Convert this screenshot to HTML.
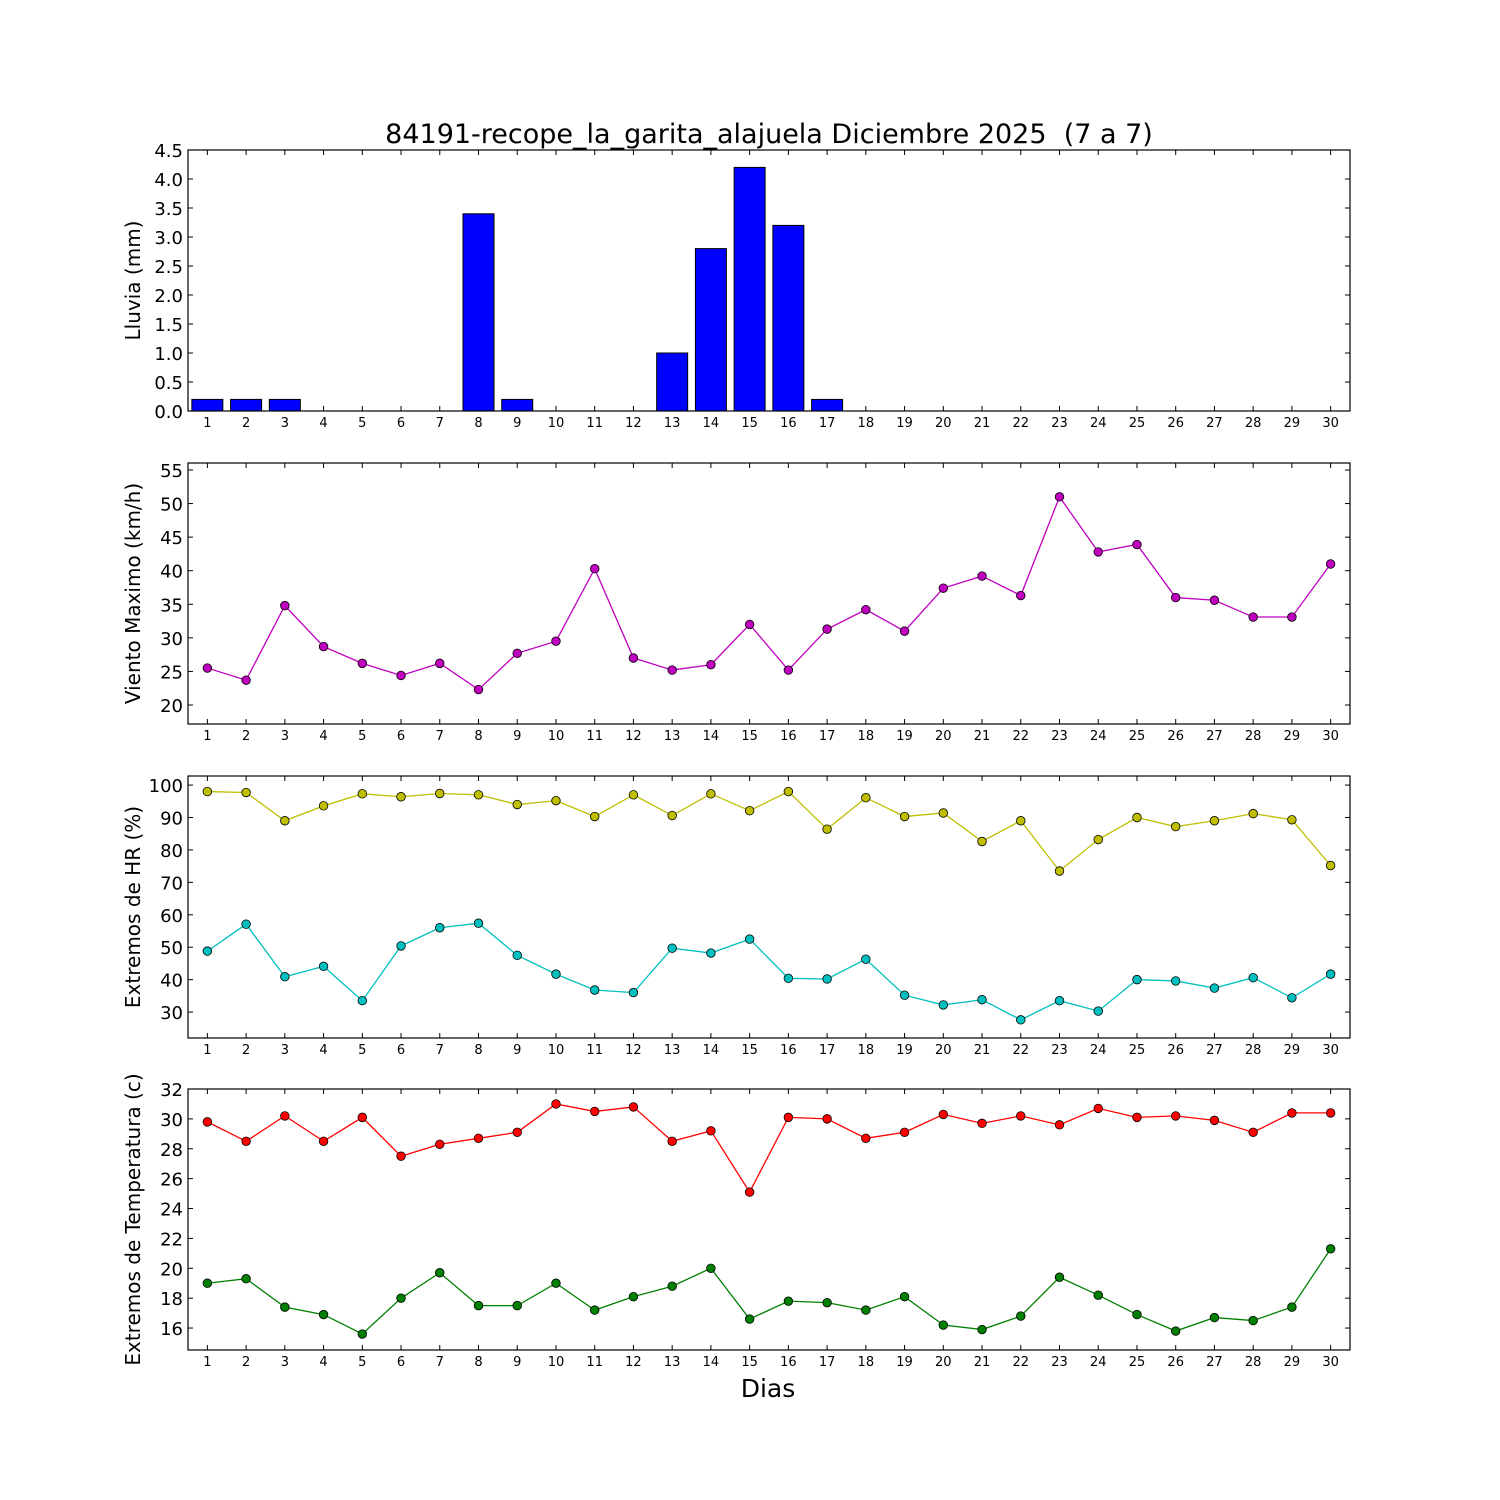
<!DOCTYPE html>
<html><head><meta charset="utf-8"><style>
html,body{margin:0;padding:0;background:#fff;}
svg{display:block;font-family:"DejaVu Sans","Liberation Sans",sans-serif;}
</style></head><body>
<svg id="chart" width="1500" height="1500" viewBox="0 0 1500 1500">
<rect width="1500" height="1500" fill="#fff"/>
<text x="769" y="143" font-size="27" text-anchor="middle" style="white-space:pre" xml:space="preserve">84191-recope_la_garita_alajuela Diciembre 2025  (7 a 7)</text>
<text x="768" y="1397" font-size="25" text-anchor="middle">Dias</text>
</svg>
<script>
const days = Array.from({length:30},(_,i)=>i+1);
const rain = [0.2,0.2,0.2,0,0,0,0,3.4,0.2,0,0,0,1.0,2.8,4.2,3.2,0.2,0,0,0,0,0,0,0,0,0,0,0,0,0];
const wind = [25.5,23.7,34.8,28.7,26.2,24.4,26.2,22.3,27.7,29.5,40.3,27,25.2,26,32,25.2,31.3,34.2,31,37.4,39.2,36.3,51,42.8,43.9,36,35.6,33.1,33.1,41];
const hrMax = [98,97.7,89,93.6,97.3,96.4,97.4,97,94,95.2,90.3,97,90.6,97.3,92.1,98,86.4,96.1,90.3,91.4,82.6,89,73.5,83.2,90,87.2,89,91.2,89.3,75.2];
const hrMin = [48.8,57.1,40.9,44.1,33.5,50.4,56,57.4,47.5,41.7,36.8,36,49.7,48.2,52.5,40.4,40.2,46.3,35.2,32.2,33.8,27.6,33.5,30.3,40,39.6,37.4,40.6,34.4,41.7];
const tMax = [29.8,28.5,30.2,28.5,30.1,27.5,28.3,28.7,29.1,31,30.5,30.8,28.5,29.2,25.1,30.1,30,28.7,29.1,30.3,29.7,30.2,29.6,30.7,30.1,30.2,29.9,29.1,30.4,30.4];
const tMin = [19,19.3,17.4,16.9,15.6,18,19.7,17.5,17.5,19,17.2,18.1,18.8,20,16.6,17.8,17.7,17.2,18.1,16.2,15.9,16.8,19.4,18.2,16.9,15.8,16.7,16.5,17.4,21.3];
const rainTicks = ["0.0","0.5","1.0","1.5","2.0","2.5","3.0","3.5","4.0","4.5"];
const windTicks = [20,25,30,35,40,45,50,55];
const hrTicks = [30,40,50,60,70,80,90,100];
const tTicks = [16,18,20,22,24,26,28,30,32];

const NS="http://www.w3.org/2000/svg";
const svg=document.getElementById('chart');
function mk(tag,attrs,parent){const e=document.createElementNS(NS,tag);for(const k in attrs)e.setAttribute(k,attrs[k]);(parent||svg).appendChild(e);return e;}
const X0=188,X1=1350;
const xs=d=>X0+(d-0.5)*(X1-X0)/30;

function panel(name,top,bot,ymin,ymax,ticks,label){
  const g=mk('g',{});
  
  
  const ys=v=>bot-(v-ymin)/(ymax-ymin)*(bot-top);
  ticks.forEach(t=>{
    const v=parseFloat(t);const y=ys(v);
    mk('line',{x1:X0,x2:X0+5,y1:y,y2:y,stroke:'#000'},g);
    mk('line',{x1:X1,x2:X1-5,y1:y,y2:y,stroke:'#000'},g);
    const tx=mk('text',{x:X0-5,y:y+7,'font-size':18,'text-anchor':'end'},g);
    tx.textContent=t;
    
    
  });
  days.forEach(d=>{
    const x=xs(d);
    mk('line',{x1:x,x2:x,y1:bot,y2:bot-5,stroke:'#000'},g);
    mk('line',{x1:x,x2:x,y1:top,y2:top+5,stroke:'#000'},g);
    const tx=mk('text',{x:x,y:bot+16,'font-size':13,'text-anchor':'middle'},g);
    tx.textContent=d;
    
    
  });
  const cy=(top+bot)/2;
  const lt=mk('text',{x:0,y:0,'font-size':20,'text-anchor':'middle',transform:`translate(140,${cy}) rotate(-90)`},g);
  lt.textContent=label;
  
  
  return {g,ys,top,bot};
}
function frame(p){mk('rect',{x:X0,y:p.top,width:X1-X0,height:p.bot-p.top,fill:'none',stroke:'#000','stroke-width':1.2},p.g);}
function series(p,vals,color,name){
  const pts=vals.map((v,i)=>xs(days[i])+','+p.ys(v)).join(' ');
  const l=mk('polyline',{points:pts,fill:'none',stroke:color,'stroke-width':1.3},p.g);
  
  
  vals.forEach((v,i)=>{
    const c=mk('circle',{cx:xs(days[i]),cy:p.ys(v),r:4.3,fill:color,stroke:'#000','stroke-width':0.8},p.g);
    
    
  });
}

const p1=panel('rain-panel',150,411,0,4.5,rainTicks,'Lluvia (mm)');
rain.forEach((v,i)=>{
  const x=xs(days[i])-0.4*(X1-X0)/30;
  const y=p1.ys(v);
  const r=mk('rect',{x:x,y:y,width:0.8*(X1-X0)/30,height:p1.bot-y,fill:'#0000ff',stroke:'#000','stroke-width':1},p1.g);
  
  
});
frame(p1);

const p2=panel('wind-panel',463,724,17.17,56.04,windTicks,'Viento Maximo (km/h)');
series(p2,wind,'#bf00bf','wind');frame(p2);

const p3=panel('humidity-panel',776,1038,22.0,102.8,hrTicks,'Extremos de HR (%)');
series(p3,hrMax,'#bfbf00','hr-max');series(p3,hrMin,'#00bfbf','hr-min');frame(p3);

const p4=panel('temperature-panel',1089,1350,14.53,32,tTicks,'Extremos de Temperatura (c)');
series(p4,tMax,'#ff0000','temp-max');series(p4,tMin,'#008000','temp-min');frame(p4);
</script>
</body></html>
